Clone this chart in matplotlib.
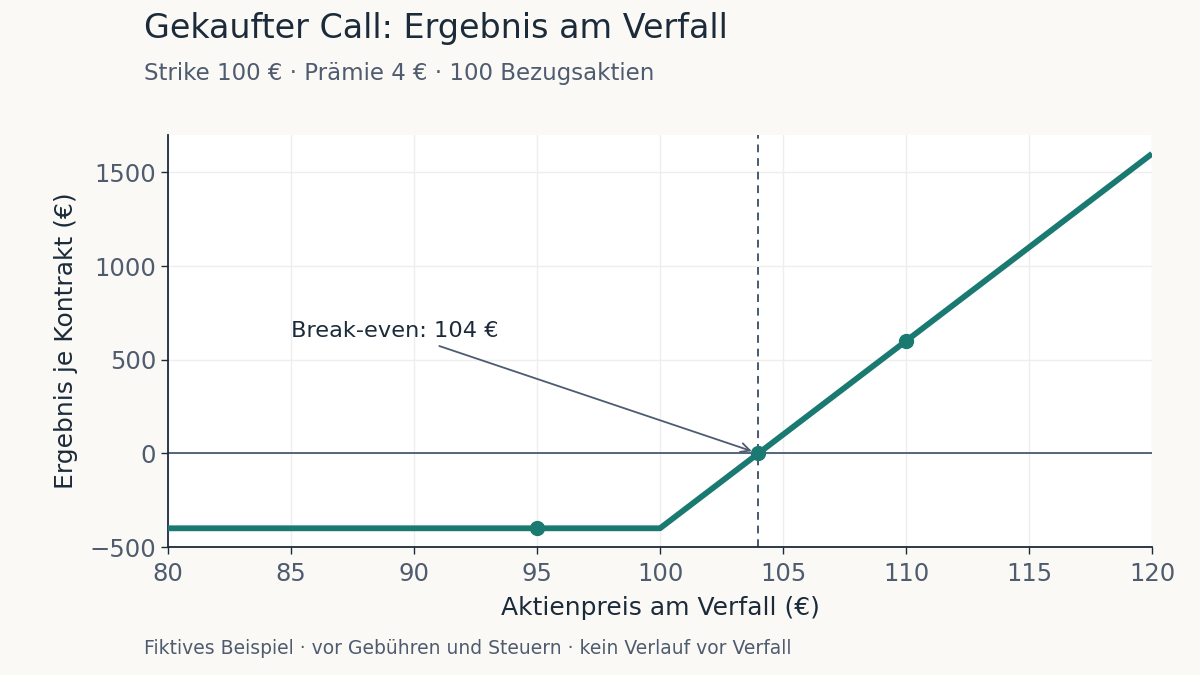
import matplotlib
matplotlib.use("Agg")
import matplotlib.pyplot as plt

# Data
prices = [80, 100, 120]
payoff = [-400, -400, 1600]
marker_prices = [95, 104, 110]
marker_payoff = [-400, 0, 600]
break_even = 104
x_ticks = [80, 85, 90, 95, 100, 105, 110, 115, 120]
y_ticks = [-500, 0, 500, 1000, 1500]

title = "Gekaufter Call: Ergebnis am Verfall"
subtitle = "Strike 100 € · Prämie 4 € · 100 Bezugsaktien"
footer = "Fiktives Beispiel · vor Gebühren und Steuern · kein Verlauf vor Verfall"

TEAL = "#1a7a72"
DARK = "#1c2b3a"
GREY = "#4f5b6e"
BG = "#faf9f6"

plt.rcParams['font.family'] = ['DejaVu Sans']

fig = plt.figure(figsize=(12, 6.75), dpi=100, facecolor=BG)
ax = fig.add_axes([0.14, 0.1896, 0.82, 0.6104])
ax.set_facecolor("white")

ax.grid(True, color="#eeeeee", linewidth=1.0, zorder=0)
ax.set_axisbelow(True)

ax.axhline(0, color="#4a5a6e", linewidth=1.3, zorder=2)
ax.axvline(break_even, color="#4a5a6e", linewidth=1.4, linestyle=(0, (4, 3)), zorder=2)

ax.plot(prices, payoff, color=TEAL, linewidth=4.2, solid_capstyle="butt", zorder=3)
ax.plot(marker_prices, marker_payoff, linestyle="none", marker="o", markersize=10,
        color=TEAL, zorder=4)

ax.annotate("Break-even: 104 €", xy=(break_even, 0), xytext=(85, 600),
            fontsize=16.2, color=DARK, ha="left", va="bottom",
            arrowprops=dict(arrowstyle="->", color="#4f5b6e", lw=1.3,
                            shrinkA=5, shrinkB=5))

ax.set_xlim(80, 120)
ax.set_ylim(-500, 1700)
ax.set_xticks(x_ticks)
ax.set_yticks(y_ticks)
ax.tick_params(axis="both", labelsize=17.5, colors=GREY, length=5, width=1)
ax.tick_params(axis="x", pad=6)
ax.tick_params(axis="both", color=DARK)

for s in ["top", "right"]:
    ax.spines[s].set_visible(False)
for s in ["left", "bottom"]:
    ax.spines[s].set_color(DARK)
    ax.spines[s].set_linewidth(1.3)

ax.set_xlabel("Aktienpreis am Verfall (€)", fontsize=18, color=DARK, labelpad=7)
ax.set_ylabel("Ergebnis je Kontrakt (€)", fontsize=18, color=DARK, labelpad=8)

fig.text(0.12, 0.958, title, fontsize=24, color=DARK, ha="left", va="center")
fig.text(0.12, 0.891, subtitle, fontsize=16.5, color=GREY, ha="left", va="center")
fig.text(0.12, 0.039, footer, fontsize=13.5, color=GREY, ha="left", va="center")

fig.savefig("out.png", dpi=100, facecolor=BG)
